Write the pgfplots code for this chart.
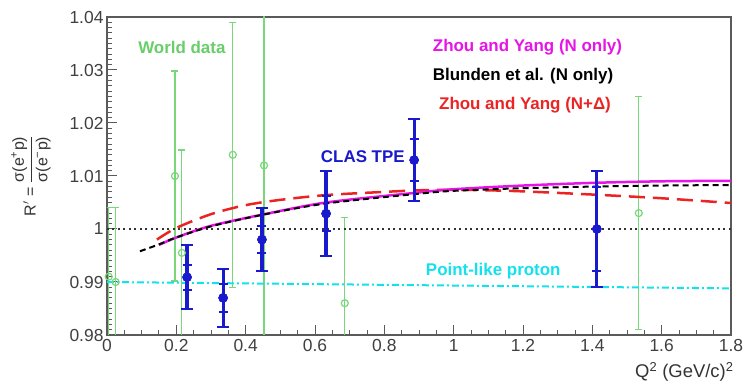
\documentclass[border=0pt]{standalone}
\usepackage{fontspec}
\setmainfont{Liberation Sans}
\usepackage{pgfplots}
\pgfplotsset{compat=1.18}
\definecolor{wgreen}{RGB}{120,215,120}
\definecolor{wgreentext}{RGB}{105,205,105}
\definecolor{zmag}{RGB}{230,20,230}
\definecolor{zred}{RGB}{235,35,35}
\definecolor{cblue}{RGB}{25,25,205}
\definecolor{pcyan}{RGB}{20,225,235}
\definecolor{framegray}{RGB}{90,90,90}
\begin{document}
\begin{tikzpicture}
\begin{axis}[
  scale only axis, width=624bp, height=318bp,
  xmin=0, xmax=1.8, ymin=0.98, ymax=1.04,
  xtick={0,0.2,0.4,0.6,0.8,1,1.2,1.4,1.6,1.8},
  ytick={0.98,0.99,1,1.01,1.02,1.03,1.04},
  minor x tick num=3, minor y tick num=9,
  tick align=inside, xtick pos=left, ytick pos=left,
  major tick length=10bp, minor tick length=5bp,
  axis line style={line width=1.6bp, framegray},
  tick style={line width=1bp, framegray},
  /pgf/number format/assume math mode=true,
  /pgf/number format/fixed,
  tick label style={font=\fontsize{17.5}{19}\selectfont, text=black!75},
  xticklabel style={yshift=-1bp},
  clip=true,
]
% World data
\addplot[wgreen, line width=1.2bp, only marks, mark=o, mark size=3.5bp,
  error bars/.cd, y dir=both, y explicit,
  error bar style={line width=1.2bp, wgreen},
  error mark=-, error mark options={rotate=90, mark size=3.5bp, line width=1.2bp, wgreen}]
table[x=x, y=y, y error=e] {
x      y       e
0.005  0.9910  0.0130
0.025  0.9900  0.0140
0.196  1.0100  0.0198
0.216  0.9955  0.0194
0.363  1.0140  0.0250
0.453  1.0120  0.0350
0.686  0.9860  0.0161
1.534  1.0030  0.0220
};
% reference line at 1
\addplot[black!80, line width=1.6bp, dash pattern=on 2bp off 3.5bp] coordinates {(0,1) (1.8,1)};
% point-like proton
\addplot[pcyan, line width=2bp, dash pattern=on 7bp off 3bp on 2bp off 3bp] coordinates {(0,0.9900) (1.8,0.9888)};
% Zhou and Yang (N+Delta)
\addplot[zred, line width=2.5bp, dash pattern=on 16bp off 8bp, smooth] coordinates {
(0.144,0.9980) (0.2,1.0002) (0.3,1.0028) (0.4,1.0045) (0.5,1.0055) (0.632,1.0064)
(0.8,1.0070) (0.9,1.0073) (1.0,1.0074) (1.1,1.0073) (1.2,1.0071) (1.4,1.0065)
(1.6,1.0058) (1.8,1.0049)};
% Zhou and Yang (N only)
\addplot[zmag, line width=2.5bp, smooth] coordinates {
(0.15,0.9970) (0.2,0.9984) (0.3,1.0006) (0.447,1.0027) (0.632,1.0050) (0.886,1.0068)
(1.0,1.0075) (1.2,1.0082) (1.4,1.0087) (1.6,1.0090) (1.8,1.0091)};
% Blunden et al.
\addplot[black, line width=2bp, dash pattern=on 6bp off 4bp, smooth] coordinates {
(0.095,0.9958) (0.15,0.9971) (0.2,0.9984) (0.3,1.0005) (0.45,1.0027) (0.63,1.0048)
(0.89,1.0066) (1.0,1.0072) (1.2,1.0077) (1.4,1.0080) (1.6,1.0082) (1.8,1.0083)};
% CLAS TPE total errors
\addplot[cblue, only marks, mark=*, mark size=4.5bp,
  error bars/.cd, y dir=both, y explicit,
  error bar style={line width=3.2bp, cblue},
  error mark=-, error mark options={rotate=90, mark size=6bp, line width=2bp, cblue}]
table[x=x, y=y, y error=e] {
x      y       e
0.231  0.9909  0.0060
0.335  0.9870  0.0055
0.447  0.9980  0.0060
0.632  1.0029  0.0080
0.886  1.0130  0.0077
1.413  1.0000  0.0110
};
% CLAS TPE statistical errors
\addplot[cblue, only marks, mark=*, mark size=4.5bp,
  error bars/.cd, y dir=both, y explicit,
  error bar style={line width=3.2bp, cblue},
  error mark=-, error mark options={rotate=90, mark size=4.5bp, line width=2bp, cblue}]
table[x=x, y=y, y error=e] {
x      y       e
0.231  0.9909  0.0024
0.335  0.9870  0.0026
0.447  0.9980  0.0025
0.632  1.0029  0.0033
0.886  1.0130  0.0040
1.413  1.0000  0.0080
};
\node[anchor=west, text=wgreentext, font=\fontsize{17}{19}\selectfont\bfseries] at (axis cs:0.08,1.0343) {World data};
\node[anchor=west, text=zmag, font=\fontsize{17}{19}\selectfont\bfseries] at (axis cs:0.93,1.0343) {Zhou and Yang (N only)};
\node[anchor=west, text=black, font=\fontsize{17}{19}\selectfont\bfseries] at (axis cs:0.93,1.0289) {Blunden et al. (N only)};
\node[anchor=west, text=zred, font=\fontsize{17}{19}\selectfont\bfseries] at (axis cs:0.948,1.0234) {Zhou and Yang (N+Δ)};
\node[anchor=west, text=cblue, font=\fontsize{17}{19}\selectfont\bfseries] at (axis cs:0.607,1.0136) {CLAS TPE};
\node[anchor=west, text=pcyan, font=\fontsize{17}{19}\selectfont\bfseries] at (axis cs:0.91,0.9921) {Point-like proton};
\end{axis}
\node[anchor=east, font=\fontsize{18.5}{20}\selectfont, text=black!80] at ([shift={(6bp,-37bp)}]current axis.south east) {Q\textsuperscript{2} (GeV/c)\textsuperscript{2}};
\node[rotate=90, font=\fontsize{16}{18}\selectfont, text=black!80] at ([shift={(-76bp,0bp)}]current axis.west) {R$'$ = $\displaystyle\frac{\hbox{σ(e\textsuperscript{+}p)}}{\hbox{σ(e\textsuperscript{−}p)}}$};
\pgfresetboundingbox
\path[use as bounding box] ([shift={(-107bp,-53bp)}]current axis.south west) rectangle ([shift={(14bp,17bp)}]current axis.north east);
\end{tikzpicture}
\end{document}
